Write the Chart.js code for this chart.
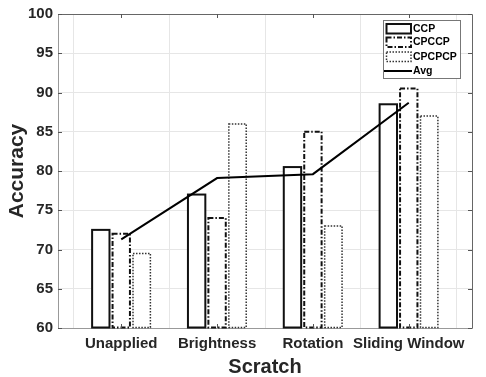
<!DOCTYPE html>
<html><head><meta charset="utf-8">
<script src="https://cdn.jsdelivr.net/npm/chart.js@4/dist/chart.umd.min.js"></script>
<style>html,body{margin:0;padding:0;background:#fff}canvas{display:block}</style>
</head>
<body>
<canvas id="c" width="486" height="377"></canvas>
<script>
const categories = ['Unapplied', 'Brightness', 'Rotation', 'Sliding Window'];
const ccp    = [72.5, 77.0, 80.5, 88.5];
const cpccp  = [72.0, 74.0, 85.0, 90.5];
const cpcpcp = [69.5, 86.0, 73.0, 87.0];
const avg    = [71.3, 79.1, 79.6, 88.7];
const yTicks = [60, 65, 70, 75, 80, 85, 90, 95, 100];
const seriesNames = ['CCP', 'CPCCP', 'CPCPCP', 'Avg'];

const FONT = '"Liberation Sans", Arial, sans-serif';
const TXT = '#262626';

const toXY = arr => arr.map((v, i) => ({x: i + 1, y: v}));

const outlineStyles = [
  {color: '#111', width: 2, dash: []},
  {color: '#111', width: 2, dash: [5, 2, 1.5, 2]},
  {color: '#333', width: 1.5, dash: [1.5, 1.5]}
];

const outlinePlugin = {
  id: 'outline',
  afterDatasetDraw(chart, args) {
    const ds = chart.data.datasets[args.index];
    if (ds.styleIdx === undefined) return;
    const st = outlineStyles[ds.styleIdx];
    const ctx = chart.ctx;
    const a = chart.chartArea;
    ctx.save();
    ctx.beginPath();
    ctx.rect(a.left, a.top - 2, a.right - a.left, a.bottom - a.top + 3);
    ctx.clip();
    ctx.strokeStyle = st.color;
    ctx.lineWidth = st.width;
    ctx.setLineDash(st.dash);
    args.meta.data.forEach(el => {
      const p = el.getProps(['x', 'y', 'base', 'width'], true);
      ctx.strokeRect(p.x - p.width / 2, p.y, p.width, p.base - p.y);
    });
    ctx.restore();
  }
};

const framePlugin = {
  id: 'frame',
  afterDraw(chart) {
    const ctx = chart.ctx;
    const a = chart.chartArea;
    const xs = chart.scales.x, ys = chart.scales.y;
    ctx.save();
    ctx.strokeStyle = '#666';
    ctx.lineWidth = 1;
    ctx.beginPath();
    ctx.moveTo(a.left, a.top + 0.5); ctx.lineTo(a.right + 0.5, a.top + 0.5);
    ctx.lineTo(a.right + 0.5, a.bottom);
    ctx.stroke();
    ctx.strokeStyle = '#555';
    ctx.beginPath();
    yTicks.forEach(v => {
      const py = Math.round(ys.getPixelForValue(v)) + 0.5;
      ctx.moveTo(a.left, py); ctx.lineTo(a.left + 4, py);
      ctx.moveTo(a.right, py); ctx.lineTo(a.right - 4, py);
    });
    categories.forEach((c, i) => {
      const px = Math.round(xs.getPixelForValue(i + 1)) + 0.5;
      ctx.moveTo(px, a.top); ctx.lineTo(px, a.top + 4);
      ctx.moveTo(px, a.bottom); ctx.lineTo(px, a.bottom - 4);
    });
    ctx.stroke();

    const bx = a.right - 89, by = a.top + 6, bw = 77, bh = 58;
    ctx.fillStyle = '#fff';
    ctx.fillRect(bx, by, bw, bh);
    ctx.strokeStyle = '#777';
    ctx.lineWidth = 1;
    ctx.strokeRect(bx + 0.5, by + 0.5, bw, bh);
    const rows = [8.5, 22, 36.5, 51];
    ctx.font = 'bold 10.5px ' + FONT;
    ctx.textBaseline = 'middle';
    ctx.textAlign = 'left';
    chart.data.datasets.forEach((ds, i) => {
      const cy = by + rows[i];
      ctx.save();
      if (ds.styleIdx !== undefined) {
        const st = outlineStyles[ds.styleIdx];
        ctx.strokeStyle = st.color;
        ctx.lineWidth = st.width;
        ctx.setLineDash(st.dash);
        ctx.strokeRect(bx + 3.5, cy - 4.5, 24.5, 9.5);
      } else {
        ctx.strokeStyle = '#000';
        ctx.lineWidth = 2;
        ctx.beginPath();
        ctx.moveTo(bx + 1, cy); ctx.lineTo(bx + 29, cy);
        ctx.stroke();
      }
      ctx.restore();
      ctx.fillStyle = '#000';
      ctx.fillText(ds.label, bx + 30, cy + 0.5);
    });
    ctx.restore();
  }
};

const barDs = (label, arr, idx) => ({
  type: 'bar', label, data: toXY(arr), styleIdx: idx, order: 1,
  base: yTicks[0],
  backgroundColor: '#fff', borderWidth: 0,
  categoryPercentage: 0.64, barPercentage: 0.85
});

new Chart(document.getElementById('c'), {
  type: 'bar',
  data: {
    datasets: [
      barDs(seriesNames[0], ccp, 0),
      barDs(seriesNames[1], cpccp, 1),
      barDs(seriesNames[2], cpcpcp, 2),
      {type: 'line', label: seriesNames[3], data: toXY(avg), order: 0,
       borderColor: '#000', borderWidth: 2, pointRadius: 0, tension: 0, fill: false}
    ]
  },
  options: {
    responsive: false, animation: false, devicePixelRatio: 1,
    layout: {padding: {top: 12, right: 14, left: 0, bottom: 0}},
    plugins: {legend: {display: false}, tooltip: {enabled: false}},
    scales: {
      x: {
        type: 'linear', min: 0.34, max: 4.66, offset: false,
        afterBuildTicks(s) { s.ticks = categories.map((c, i) => ({value: i + 1})); },
        afterFit(s) { s.height = 49; },
        ticks: {
          callback: (v, i) => categories[i], autoSkip: false, maxRotation: 0,
          padding: 7, color: TXT, font: {family: FONT, weight: 'bold', size: 15}
        },
        grid: {color: '#e6e6e6', drawTicks: false},
        border: {color: '#999', width: 1},
        title: {display: true, text: 'Scratch', color: TXT,
                font: {family: FONT, weight: 'bold', size: 20, lineHeight: 1}, padding: 0}
      },
      y: {
        min: 60, max: 100,
        afterBuildTicks(s) { s.ticks = yTicks.map(v => ({value: v})); },
        afterFit(s) { s.width = 58; },
        ticks: {padding: 5, color: TXT, font: {family: FONT, weight: 'bold', size: 15}},
        grid: {color: '#e6e6e6', drawTicks: false},
        border: {color: '#999', width: 1},
        title: {display: true, text: 'Accuracy', color: TXT,
                font: {family: FONT, weight: 'bold', size: 21, lineHeight: 1}, padding: {top: 6.5, bottom: 0}}
      }
    }
  },
  plugins: [outlinePlugin, framePlugin]
});
</script>
</body></html>
